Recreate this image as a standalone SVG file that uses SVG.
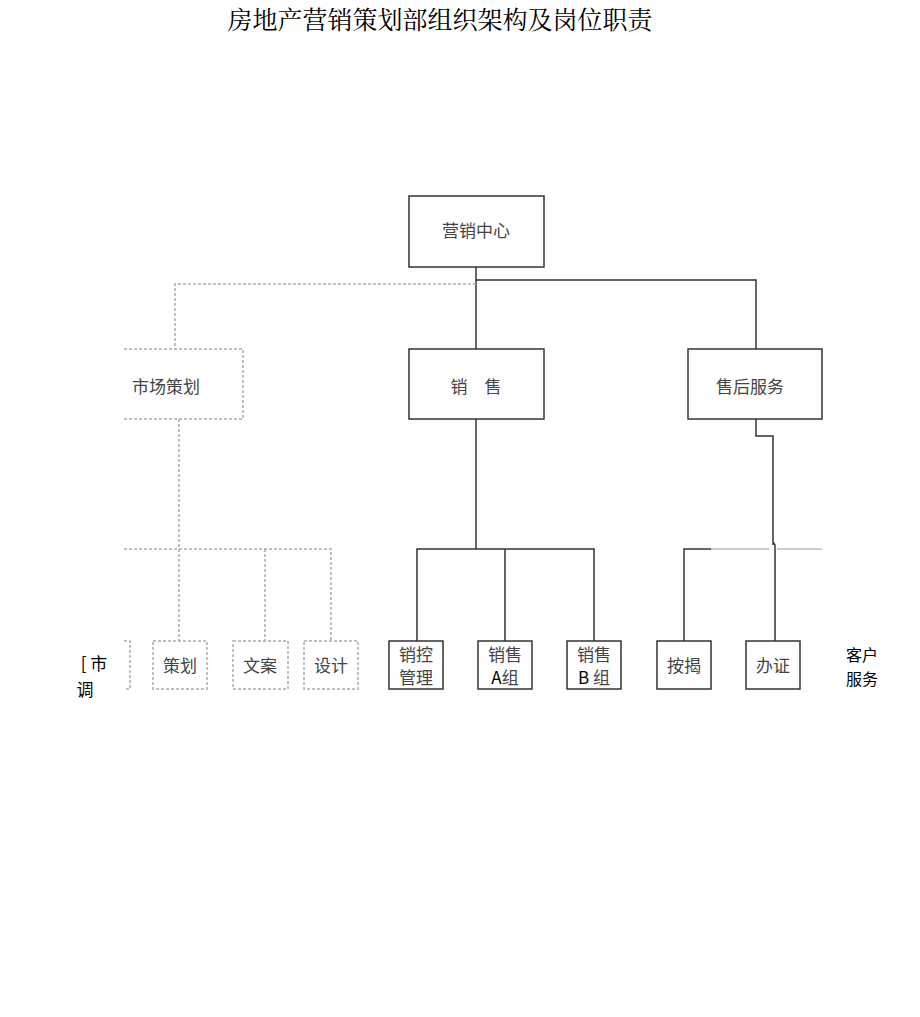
<svg xmlns="http://www.w3.org/2000/svg" width="920" height="1017" viewBox="0 0 920 1017">
<style>
text{font-family:"Noto Sans CJK SC","Liberation Sans",sans-serif;fill:#444;font-size:17px;text-anchor:middle}
.t{font-family:"Noto Serif CJK SC","Liberation Serif","Noto Sans CJK SC",serif;fill:#000;font-size:25px}
.s{fill:#fff;stroke:#333;stroke-width:1.5}
.d{fill:#fff;stroke:#aaa;stroke-width:1.5;stroke-dasharray:3,2}
.l{fill:none;stroke:#333;stroke-width:1.5}
.ld{fill:none;stroke:#aaa;stroke-width:1.5;stroke-dasharray:3,2}
.k{fill:#000}
</style>
<text class="t" x="440" y="29">房地产营销策划部组织架构及岗位职责</text>
<g id="connectors">
<path class="l" d="M476 267V549M476 280H756V349M417 641V549H594V641M505 549V641"/>
<path class="ld" d="M476 284H175V349M179 419V549M124 549H331V641M179 549V641M265 549V641"/>
<path class="l" d="M756 419V436H773V545Q773 541 775 545V641M684 641V549H711"/>
<path d="M711 549H769M777 549H822" fill="none" stroke="#bbb" stroke-width="1.5"/>
</g>
<g id="n0"><rect class="s" x="409" y="196" width="135" height="71"/><text x="476" y="237">营销中心</text></g>
<g id="n1"><path class="d" d="M124 349H243V419H124"/><text x="166" y="393">市场策划</text></g>
<g id="n2"><rect class="s" x="409" y="349" width="135" height="70"/><text x="476" y="393">销　售</text></g>
<g id="n3"><rect class="s" x="688" y="349" width="134" height="70"/><text x="750" y="393">售后服务</text></g>
<g id="n4"><path class="d" d="M124 641H130V689H124"/><text class="k" x="94" y="670">[ 市</text><text class="k" x="85" y="696">调</text></g>
<g id="n5"><rect class="d" x="153" y="641" width="54" height="48"/><text x="180" y="672">策划</text></g>
<g id="n6"><rect class="d" x="233" y="641" width="55" height="48"/><text x="260" y="672">文案</text></g>
<g id="n7"><rect class="d" x="304" y="641" width="54" height="48"/><text x="331" y="672">设计</text></g>
<g id="n8"><rect class="s" x="389" y="641" width="54" height="48"/><text x="416" y="661">销控</text><text x="416" y="684">管理</text></g>
<g id="n9"><rect class="s" x="478" y="641" width="54" height="48"/><text x="505" y="661">销售</text><text x="505" y="684"><tspan fill="#000">A</tspan>组</text></g>
<g id="n10"><rect class="s" x="567" y="641" width="54" height="48"/><text x="594" y="661">销售</text><text x="594" y="684"><tspan fill="#000">B</tspan> 组</text></g>
<g id="n11"><rect class="s" x="657" y="641" width="54" height="48"/><text x="684" y="672">按揭</text></g>
<g id="n12"><rect class="s" x="746" y="641" width="54" height="48"/><text x="773" y="672">办证</text></g>
<g id="n13"><text class="k" x="862" y="661" style="font-size:16px">客户</text><text class="k" x="862" y="685" style="font-size:16px">服务</text></g>
</svg>
